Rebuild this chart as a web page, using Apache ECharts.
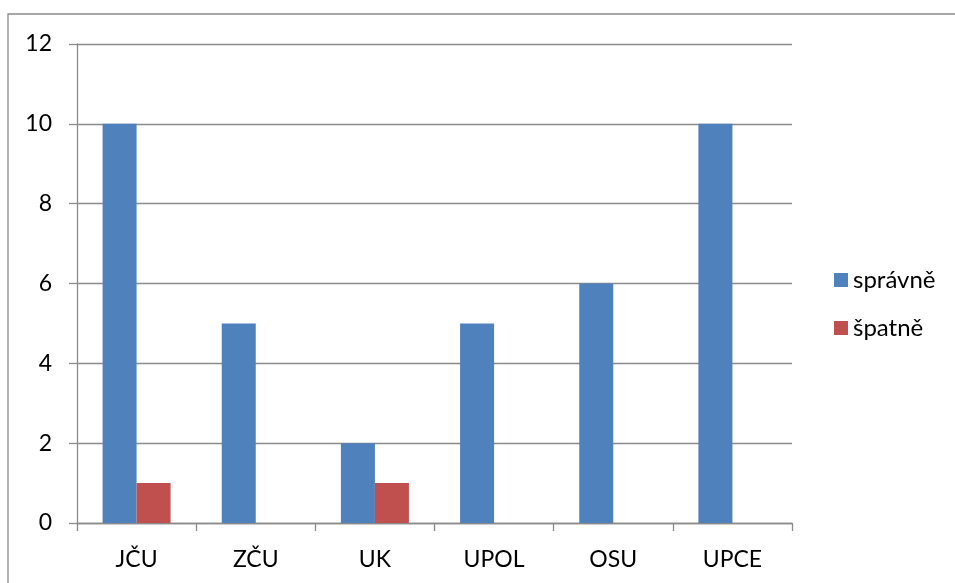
<!DOCTYPE html>
<html>
<head>
<meta charset="utf-8">
<script src="https://cdn.jsdelivr.net/npm/echarts@6/dist/echarts.min.js"></script>
<style>
  html, body { margin: 0; padding: 0; background: #fff; }
  #chart { width: 955px; height: 583px; }
</style>
</head>
<body>
<div id="chart"></div>
<script>
  // kategorie (univerzity)
  let categories = ['JČU', 'ZČU', 'UK', 'UPOL', 'OSU', 'UPCE'];
  // hodnoty řad
  let spravne = [10, 5, 2, 5, 6, 10];
  let spatne = [1, 0, 1, 0, 0, 0];
  let seriesNames = ['správně', 'špatně'];

  let font = 'Lato, Carlito, Calibri, sans-serif';
  let gray = '#8a8a8a';

  let chart = echarts.init(document.getElementById('chart'));
  let option = {
    backgroundColor: '#fff',
    animation: false,
    color: ['#4F81BD', '#C0504D'],
    textStyle: { fontFamily: font, color: '#000' },
    graphic: [{
      type: 'rect',
      silent: true,
      shape: { x: 8, y: 14, width: 1200, height: 800 },
      style: { fill: 'none', stroke: gray, lineWidth: 1.3 }
    }],
    grid: {
      left: 77,
      right: 163,
      top: 44,
      bottom: 60
    },
    legend: {
      orient: 'vertical',
      left: 834,
      top: 268,
      padding: 0,
      itemWidth: 14,
      itemHeight: 14,
      itemGap: 24,
      icon: 'rect',
      data: seriesNames,
      textStyle: { fontFamily: font, fontSize: 24, lineHeight: 23, color: '#000' }
    },
    xAxis: {
      type: 'category',
      data: categories,
      axisLine: { lineStyle: { color: gray, width: 1.3 } },
      axisTick: { show: true, length: 8, lineStyle: { color: gray, width: 1.3 } },
      axisLabel: { margin: 25, fontSize: 23, fontFamily: font, color: '#000' }
    },
    yAxis: {
      type: 'value',
      min: 0,
      max: 12,
      interval: 2,
      axisLine: { show: true, lineStyle: { color: gray, width: 1.3 } },
      axisTick: { show: true, length: 8, lineStyle: { color: gray, width: 1.3 } },
      splitLine: { lineStyle: { color: gray, width: 1.3 } },
      axisLabel: { margin: 25, fontSize: 23, fontFamily: font, color: '#000' }
    },
    series: [
      {
        name: seriesNames[0],
        type: 'bar',
        data: spravne,
        barWidth: 34,
        barGap: '0%'
      },
      {
        name: seriesNames[1],
        type: 'bar',
        data: spatne,
        barWidth: 34,
        barGap: '0%'
      }
    ]
  };
  chart.setOption(option);
</script>
</body>
</html>
